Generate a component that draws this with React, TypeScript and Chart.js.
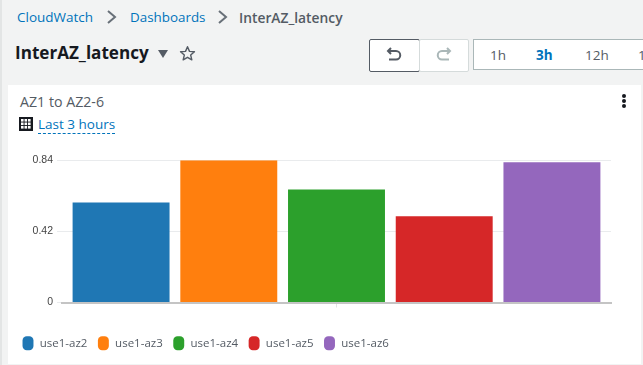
import React, { useEffect, useRef } from "react";
import { Chart, registerables } from "chart.js";

Chart.register(...registerables);

const categories = ["AZ1 to AZ2-6"];
const seriesNames = ["use1-az2", "use1-az3", "use1-az4", "use1-az5", "use1-az6"];
const seriesValues = [0.59, 0.84, 0.668, 0.509, 0.828];
const seriesColors = ["#1f77b4", "#ff7f0e", "#2ca02c", "#d62728", "#9467bd"];
const yTicks = [0, 0.42, 0.84];
const rangeLabels = ["1h", "3h", "12h", "1d"];

const FONT = '"Open Sans", "Noto Sans", sans-serif';

const abs = (l: number, t: number, extra: React.CSSProperties = {}): React.CSSProperties => ({
  position: "absolute",
  left: l,
  top: t,
  whiteSpace: "nowrap",
  ...extra,
});

export default function App() {
  const ref = useRef<HTMLCanvasElement>(null);
  useEffect(() => {
    const chart = new Chart(ref.current!, {
      type: "bar",
      data: {
        labels: categories,
        datasets: seriesNames.map((n, i) => ({
          label: n,
          data: [seriesValues[i]],
          backgroundColor: seriesColors[i],
          borderColor: seriesColors[i],
          borderWidth: 0,
          barPercentage: 0.9,
          categoryPercentage: 0.981,
        })),
      },
      options: {
        animation: false,
        responsive: false,
        layout: { padding: { left: 4, right: 30, top: 10, bottom: 5 } },
        plugins: {
          title: { display: false },
          tooltip: { enabled: false },
          legend: {
            position: "bottom",
            align: "start",
            labels: {
              usePointStyle: true,
              pointStyle: "rectRounded",
              pointStyleWidth: 12,
              boxHeight: 12,
              padding: 10,
              color: "#545b64",
              font: { family: FONT, size: 11.5 },
            },
          },
        },
        scales: {
          x: {
            afterFit: (axis: any) => {
              axis.height = 25;
            },
            grid: { display: true, drawOnChartArea: false, drawTicks: true, tickLength: 5, offset: false, color: "#e2e4e4" },
            border: { color: "#c4c4c4", width: 2 },
            ticks: { display: false },
          },
          y: {
            min: 0,
            max: 0.84,
            afterBuildTicks: (axis: any) => {
              axis.ticks = yTicks.map((v) => ({ value: v }));
            },
            afterFit: (axis: any) => {
              axis.width = 50;
            },
            grid: { color: "#e9ebed", tickLength: 5, drawTicks: true },
            border: { display: false },
            ticks: {
              color: "#444",
              padding: 4,
              font: { family: '"Liberation Sans", Arial, sans-serif', size: 10.5 },
              callback: (v: any) => String(v),
            },
          },
        },
      },
    });
    return () => chart.destroy();
  }, []);

  return (
    <div style={{ position: "fixed", inset: 0, background: "#f2f3f3", overflow: "hidden", fontFamily: FONT, borderLeft: "2px solid #e3e5e5" }}>
      <div style={{ position: "absolute", left: -2, top: 0, width: 643, height: 365 }}>
        <span style={abs(17, 8, { fontSize: 13.5, color: "#0073bb" })}>CloudWatch</span>
        <svg style={abs(106, 9)} width="12" height="16" viewBox="0 0 12 16">
          <path d="M2 2 L9 8 L2 14" fill="none" stroke="#687078" strokeWidth="2" />
        </svg>
        <span style={abs(130, 8, { fontSize: 13.4, color: "#0073bb" })}>Dashboards</span>
        <svg style={abs(217, 9)} width="12" height="16" viewBox="0 0 12 16">
          <path d="M2 2 L9 8 L2 14" fill="none" stroke="#687078" strokeWidth="2" />
        </svg>
        <span style={abs(239, 8, { fontSize: 13.8, fontWeight: 600, color: "#545b64" })}>InterAZ_latency</span>
        <span style={abs(15, 41, { fontSize: 17.1, fontWeight: 700, color: "#16191f" })}>InterAZ_latency</span>
        <svg style={abs(157, 48)} width="12" height="12" viewBox="0 0 12 12">
          <path d="M1 2 H11 L6 10 Z" fill="#545b64" />
        </svg>
        <svg style={abs(179, 45)} width="17" height="17" viewBox="0 0 24 24">
          <path d="M12 2.5 L14.8 9 L21.8 9.6 L16.5 14.2 L18.1 21 L12 17.4 L5.9 21 L7.5 14.2 L2.2 9.6 L9.2 9 Z" fill="none" stroke="#545b64" strokeWidth="2" strokeLinejoin="round" />
        </svg>

        <div style={abs(369, 39, { width: 49, height: 31, background: "#fff", border: "1px solid #545b64", borderRadius: 2 })} />
        <svg style={abs(386, 47)} width="16" height="16" viewBox="0 0 16 16">
          <path d="M5 1 L2 4 L5 7 M2 4 H10 A4 4 0 0 1 10 12.5 H3" fill="none" stroke="#545b64" strokeWidth="2" />
        </svg>
        <div style={abs(419, 39, { width: 48, height: 31, background: "#fff", border: "1px solid #d5dbdb", borderRadius: 2 })} />
        <svg style={abs(436, 47)} width="16" height="16" viewBox="0 0 16 16">
          <path d="M11 1 L14 4 L11 7 M14 4 H6 A4 4 0 0 0 6 12.5 H13" fill="none" stroke="#aab7b8" strokeWidth="2" />
        </svg>
        <div style={abs(473, 39, { width: 180, height: 29, background: "#fff", border: "1px solid #aab7b8" })} />
        {rangeLabels.map((t, i) => (
          <span
            key={t}
            style={abs([490, 536, 585, 638][i], 46, {
              fontSize: 13.5,
              color: i === 1 ? "#0073bb" : "#545b64",
              fontWeight: i === 1 ? 700 : 400,
            })}
          >
            {t}
          </span>
        ))}

        <div style={abs(8, 85, { width: 633, height: 279, background: "#fff" })} />
        <span style={abs(20, 92, { fontSize: 14.2, color: "#545b64" })}>AZ1 to AZ2-6</span>
        <svg style={abs(19, 117)} width="14" height="14" viewBox="0 0 14 14">
          <rect x="0" y="0" width="14" height="14" fill="#16191f" />
          {[2, 5.5, 9].map((x) =>
            [2, 5.5, 9].map((y) => <rect key={`${x}-${y}`} x={x} y={y} width="2.6" height="2.6" fill="#fff" />)
          )}
        </svg>
        <span style={abs(38, 115, { fontSize: 13.5, color: "#0073bb", borderBottom: "1px dashed #0073bb", lineHeight: "18px" })}>
          Last 3 hours
        </span>
        <svg style={abs(620, 93)} width="8" height="16" viewBox="0 0 8 16">
          <circle cx="4" cy="3" r="2" fill="#16191f" />
          <circle cx="4" cy="8" r="2" fill="#16191f" />
          <circle cx="4" cy="13" r="2" fill="#16191f" />
        </svg>
        <canvas ref={ref} width={633} height={214} style={{ position: "absolute", left: 8, top: 150, width: 633, height: 214 }} />
      </div>
    </div>
  );
}
